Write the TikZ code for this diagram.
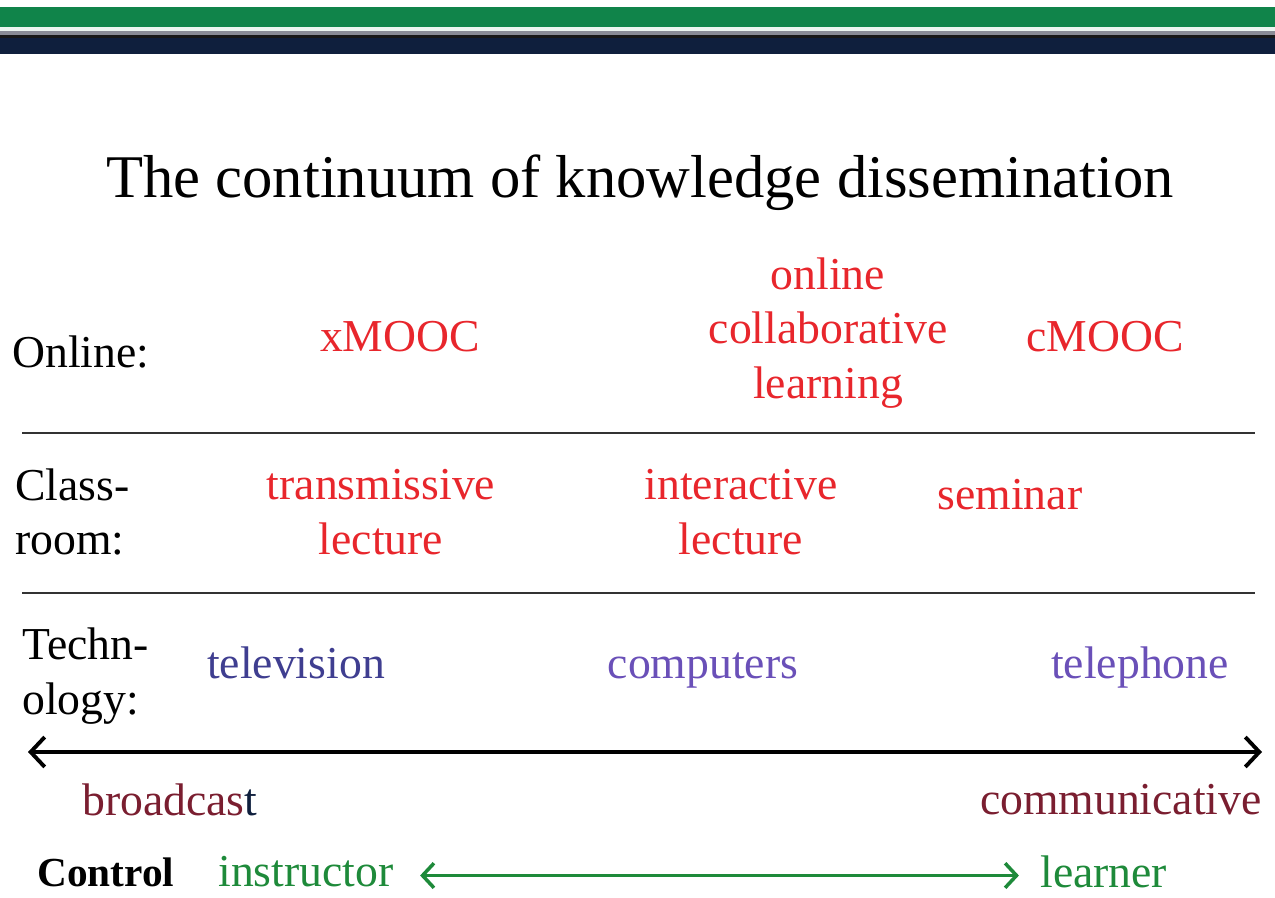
\documentclass[tikz,border=0pt]{standalone}
\usepackage{fontspec}
\setmainfont{Liberation Serif}
\usepackage{xcolor}
\usepackage{tikz}
\usetikzlibrary{arrows.meta}
\definecolor{bargreen}{HTML}{10844A}
\definecolor{barnavy}{HTML}{0F1F3D}
\definecolor{bargray}{HTML}{8A8C96}
\definecolor{modered}{HTML}{E8262C}
\definecolor{techblue}{HTML}{3F3E90}
\definecolor{techpurple}{HTML}{6A50B8}
\definecolor{endred}{HTML}{7A1E30}
\definecolor{ctrlgreen}{HTML}{1E8A3A}
\definecolor{rulegray}{HTML}{333333}

\tikzset{
  bodyfont/.style={font=\fontsize{26}{31}\selectfont, inner sep=0pt},
  rowlabel/.style={bodyfont, anchor=west, align=left},
  modetext/.style={bodyfont, text=modered, align=center},
  techtext/.style={bodyfont, text=#1, anchor=base},
  endtext/.style={bodyfont, text=endred},
  ctrltext/.style={bodyfont, text=ctrlgreen},
  rowrule/.style={draw=rulegray, line width=1.2pt},
  barrow/.style={line width=2.2pt, {Straight Barb[length=8pt,width=17pt]}-{Straight Barb[length=8pt,width=17pt]}},
  garrow/.style={line width=2pt, {Straight Barb[length=6.5pt,width=14pt]}-{Straight Barb[length=6.5pt,width=14pt]}}
}

\begin{document}
\begin{tikzpicture}[x=0.02cm, y=-0.02cm]
  \useasboundingbox (0,0) rectangle (1275,898);

  %% Header bars
  \fill[bargreen] (0,7) rectangle (1275,27);
  \fill[white!92!bargreen] (0,27) rectangle (1275,31);
  \fill[bargray] (0,31) rectangle (1275,35);
  \fill[black!90] (0,35) rectangle (1275,38);
  \fill[barnavy] (0,38) rectangle (1275,54);

  %% Title
  \node[font=\fontsize{34.5}{40}\selectfont, inner sep=0pt] (title) at (640,183)
    {The continuum of knowledge dissemination};

  %% Online row
  \node[rowlabel] (online) at (12,352) {Online:};
  \node[modetext] (xmooc) at (400,337) {xMOOC};
  \node[modetext] (collab) at (828,333) {online\\collaborative\\learning};
  \node[modetext] (cmooc) at (1105,337) {cMOOC};

  \coordinate (ruleAw) at (22,433);
  \coordinate (ruleAe) at (1255,433);
  \draw[rowrule] (ruleAw) -- (ruleAe);

  %% Classroom row
  \node[rowlabel] (classroom) at (15,512) {Class-\\room:};
  \node[modetext] (transm) at (381,512) {transmissive\\lecture};
  \node[modetext] (interact) at (741,512) {interactive\\lecture};
  \node[modetext] (seminar) at (1010,495) {seminar};

  \coordinate (ruleBw) at (22,593);
  \coordinate (ruleBe) at (1255,593);
  \draw[rowrule] (ruleBw) -- (ruleBe);

  %% Technology row
  \node[rowlabel] (technology) at (22,676) {Techn-\\ology:};
  \node[techtext=techblue] (tv) at (296,678) {television};
  \node[techtext=techpurple] (computers) at (703,678) {computers};
  \node[techtext=techpurple] (phone) at (1140,678) {telephone};

  %% Broadcast -- communicative axis
  \coordinate (axisW) at (28,752);
  \coordinate (axisE) at (1262,752);
  \draw[barrow, black] (axisW) -- (axisE);

  \node[endtext, anchor=west] (broadcast) at (82,800)
    {broadcas\textcolor{barnavy}{t}};
  \node[endtext, anchor=east] (communic) at (1262,800) {communicative};

  %% Control
  \node[bodyfont, anchor=west, font=\fontsize{23.5}{28}\selectfont\bfseries] (control) at (37,872) {Control};
  \node[ctrltext, anchor=west] (instructor) at (218,872) {instructor};
  \node[ctrltext, anchor=west] (learner) at (1040,872) {learner};
  \draw[garrow, ctrlgreen]
    ([xshift=15pt, yshift=-2pt]instructor.east) -- ([xshift=-12pt, yshift=-2pt]learner.west);
\end{tikzpicture}
\end{document}
